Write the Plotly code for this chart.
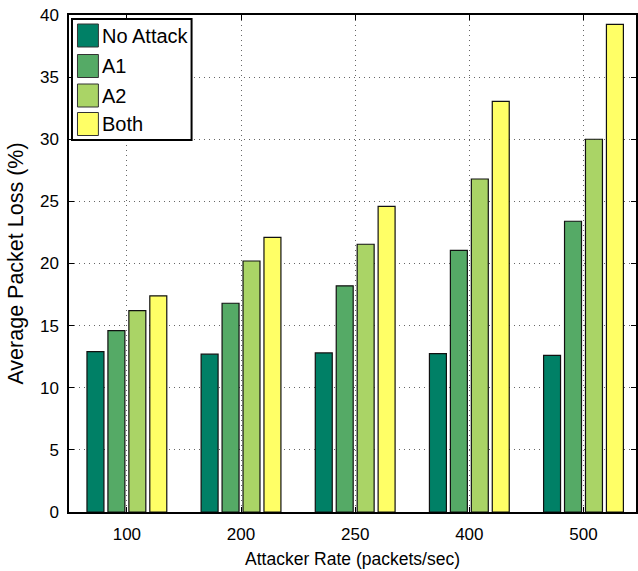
import plotly.graph_objects as go

categories = ["100", "200", "250", "400", "500"]
series_names = ["No Attack", "A1", "A2", "Both"]
no_attack = [12.9, 12.7, 12.8, 12.75, 12.6]
a1 = [14.6, 16.8, 18.2, 21.05, 23.4]
a2 = [16.2, 20.2, 21.55, 26.8, 30.0]
both = [17.4, 22.1, 24.6, 33.05, 39.25]
colors = ["#008066", "#55aa66", "#aad466", "#ffff66"]
y_ticks = [0, 5, 10, 15, 20, 25, 30, 35, 40]

FONT = "Liberation Sans, Arial, Helvetica, sans-serif"

fig = go.Figure()
for name, vals, col in zip(series_names, [no_attack, a1, a2, both], colors):
    fig.add_trace(go.Bar(
        x=categories, y=vals, name=name, marker_color=col,
        marker_line_color="#111111", marker_line_width=1.2,
        showlegend=False,
    ))

W, H = 638, 571
ml, mr, mt, mb = 69, 0, 15, 59
pw, ph = W - ml - mr, H - mt - mb

fig.update_layout(
    width=W, height=H,
    margin=dict(l=ml, r=mr, t=mt, b=mb),
    paper_bgcolor="white", plot_bgcolor="white",
    barmode="group", bargap=0.266, bargroupgap=0.19,
    font=dict(family=FONT, size=17, color="black"),
    xaxis=dict(
        type="category", range=[-0.507, 4.46],
        showline=True, linecolor="black", linewidth=1.5, mirror="ticks",
        ticks="inside", ticklen=5, tickcolor="black",
        showgrid=True, gridcolor="#666666", griddash="1px,4px", gridwidth=1,
        tickfont=dict(size=17), ticklabelstandoff=6,
        title=dict(text="Attacker Rate (packets/sec)", font=dict(size=17.5), standoff=10),
    ),
    yaxis=dict(
        range=[0, 40], tickvals=y_ticks,
        showline=True, linecolor="black", linewidth=1.5, mirror="ticks",
        ticks="inside", ticklen=5, tickcolor="black",
        showgrid=True, gridcolor="#666666", griddash="1px,4px", gridwidth=1,
        zeroline=False, tickfont=dict(size=17), ticklabelstandoff=5,
        title=dict(text="Average Packet Loss (%)", font=dict(size=21.5), standoff=10),
    ),
)

def px_x(x):
    return (x - ml) / pw

def px_y(y):
    return 1 - (y - mt) / ph

fig.add_shape(type="rect", xref="paper", yref="paper",
              x0=px_x(72), x1=px_x(192), y0=px_y(140), y1=px_y(19),
              line=dict(color="black", width=2), fillcolor="white", layer="above")
row_centers = [35.5, 66, 95.5, 124]
for name, col, yc in zip(series_names, colors, row_centers):
    fig.add_shape(type="rect", xref="paper", yref="paper",
                  x0=px_x(77.5), x1=px_x(98.5), y0=px_y(yc + 11.5), y1=px_y(yc - 11.5),
                  line=dict(color="#333333", width=1), fillcolor=col, layer="above")
    fig.add_annotation(xref="paper", yref="paper", x=px_x(100), y=px_y(yc),
                       text=name, showarrow=False, xanchor="left", yanchor="middle",
                       font=dict(size=20, family=FONT, color="black"))

fig.write_html("out.html")
